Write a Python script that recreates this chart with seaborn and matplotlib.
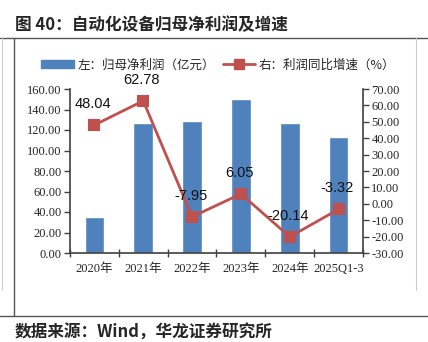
import matplotlib
matplotlib.use("Agg")
import matplotlib.pyplot as plt
import seaborn as sns
import numpy as np
from matplotlib.lines import Line2D
from matplotlib.patches import Patch

sns.set_theme(style="white")
plt.rcParams['font.family'] = ['Liberation Serif', 'Noto Sans CJK SC', 'DejaVu Sans']

categories = ["2020年", "2021年", "2022年", "2023年", "2024年", "2025Q1-3"]
net_profit = [35.0, 127.2, 128.5, 150.5, 127.1, 112.9]       # 亿元
growth_rate = [48.04, 62.78, -7.95, 6.05, -20.14, -3.32]     # %

bar_color = "#4F81BD"
line_color = "#C0504D"

fig = plt.figure(figsize=(4.28, 3.42), dpi=100)
ax = fig.add_axes([70 / 428, (342 - 253) / 342, (363 - 70) / 428, (253 - 89) / 342])

sns.barplot(x=categories, y=net_profit, color=bar_color, width=0.4,
            saturation=1, ax=ax, zorder=2)
ax.set_ylim(0, 160)
ax.set_yticks(np.arange(0, 161, 20))
ax.set_yticklabels([f"{v:.2f}" for v in np.arange(0, 161, 20)], fontsize=9)

ax2 = ax.twinx()
sns.pointplot(x=categories, y=growth_rate, color=line_color, markers="s",
              markersize=6.5, linewidth=2.0, ax=ax2, zorder=3)
ax2.set_ylim(-30, 70)
ax2.set_yticks(np.arange(-30, 71, 10))
ax2.set_yticklabels([f"{v:.2f}" for v in np.arange(-30, 71, 10)], fontsize=9)

for a in (ax, ax2):
    a.set_xlim(-0.5, len(categories) - 0.5)
    a.set_xlabel("")
    a.set_ylabel("")
    for s in a.spines.values():
        s.set_visible(False)
    a.grid(False)

ax.spines['left'].set_visible(True)
ax.spines['bottom'].set_visible(True)
ax2.spines['right'].set_visible(True)
for sp in (ax.spines['left'], ax.spines['bottom'], ax2.spines['right']):
    sp.set_color("#404040")
    sp.set_linewidth(1.2)

ax.tick_params(axis='y', direction='out', length=4, width=1, color="#404040",
               pad=2, left=True)
ax2.tick_params(axis='y', direction='out', length=4, width=1, color="#404040",
                pad=2, right=True)

# category boundaries as ticks, names centred under each bar
ax.set_xticks(np.arange(-0.5, len(categories), 1.0))
ax.set_xticklabels([])
ax.set_xticks(np.arange(len(categories)), minor=True)
ax.set_xticklabels(categories, minor=True, fontsize=9)
ax.tick_params(axis='x', which='major', direction='inout', length=6, width=1,
               color="#404040", bottom=True)
ax.tick_params(axis='x', which='minor', length=0, pad=7)

for i, v in enumerate(growth_rate):
    ax2.annotate(f"{v:.2f}", (i, v), xytext=(-1, 10), textcoords="offset points",
                 ha="center", va="bottom", fontsize=10.5,
                 family=["Liberation Sans", "DejaVu Sans"], color="#111111")

handles = [Patch(facecolor=bar_color, edgecolor=bar_color),
           Line2D([0], [0], color=line_color, lw=2.0, marker="s", markersize=6.5)]
labels = ["左：归母净利润（亿元）", "右：利润同比增速（%）"]
fig.legend(handles, labels, loc="center", bbox_to_anchor=(0.51, 1 - 65 / 342),
           ncol=2, frameon=False, handlelength=2.6, handleheight=0.6,
           columnspacing=0.6, handletextpad=0.3,
           prop={"family": ["Noto Sans CJK SC"], "size": 9})

fig.text(15 / 428, 1 - 25 / 342, "图 40：自动化设备归母净利润及增速", fontsize=12,
         fontweight="bold", va="center", ha="left",
         family=["Noto Sans CJK SC", "DejaVu Sans"])
fig.text(15 / 428, 1 - 333 / 342, "数据来源：Wind，华龙证券研究所", fontsize=12,
         fontweight="bold", va="center", ha="left",
         family=["Noto Sans CJK SC", "DejaVu Sans"])

# page frame lines
def hline(y, x0, x1, color, lw):
    fig.add_artist(Line2D([x0 / 428, x1 / 428], [1 - y / 342, 1 - y / 342],
                          color=color, lw=lw))

def vline(x, y0, y1, color, lw):
    fig.add_artist(Line2D([x / 428, x / 428], [1 - y0 / 342, 1 - y1 / 342],
                          color=color, lw=lw))

hline(37.5, 0, 428, "#555555", 1.0)
hline(316, 0, 428, "#555555", 1.0)
vline(14, 37.5, 316, "#555555", 1.0)
vline(416, 37.5, 290, "#cccccc", 0.8)
vline(2, 37.5, 290, "#cccccc", 0.8)

fig.savefig("out.png", dpi=100)
